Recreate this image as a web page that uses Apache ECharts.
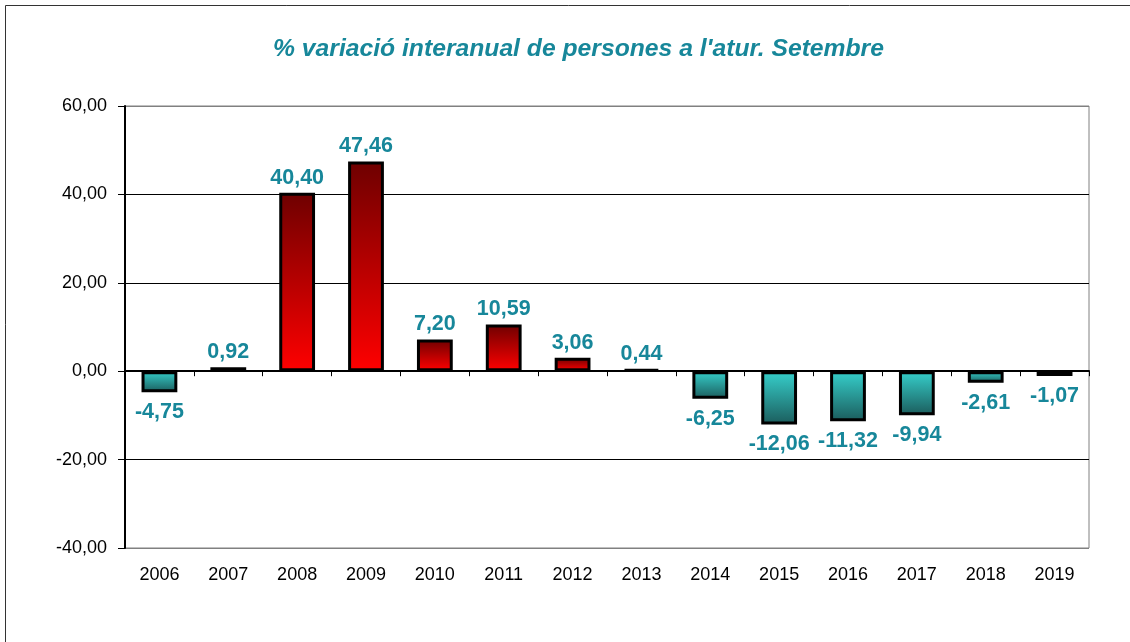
<!DOCTYPE html>
<html>
<head>
<meta charset="utf-8">
<script src="https://cdn.jsdelivr.net/npm/echarts@6/dist/echarts.min.js"></script>
<style>
  html, body { margin: 0; padding: 0; background: #fff; }
  #chart { width: 1130px; height: 642px; }
</style>
</head>
<body>
<div id="chart"></div>
<script>
var years = ['2006','2007','2008','2009','2010','2011','2012','2013','2014','2015','2016','2017','2018','2019'];
var variacio = [-4.75, 0.92, 40.40, 47.46, 7.20, 10.59, 3.06, 0.44, -6.25, -12.06, -11.32, -9.94, -2.61, -1.07];
var titol = "% variació interanual de persones a l'atur. Setembre";

function coma(v) {
    return v.toFixed(2).replace('.', ',');
}

var vermell = new echarts.graphic.LinearGradient(0, 0, 0, 1, [
    { offset: 0, color: '#6e0000' },
    { offset: 1, color: '#ff0000' }
]);
var blau = new echarts.graphic.LinearGradient(0, 0, 0, 1, [
    { offset: 0, color: '#36d0cc' },
    { offset: 1, color: '#1b5c5c' }
]);

var barres = variacio.map(function (v) {
    return {
        value: v,
        itemStyle: { color: v >= 0 ? vermell : blau },
        label: { position: v >= 0 ? 'top' : 'bottom', distance: v >= 0 ? 4 : 9 }
    };
});

function graficAtur() {
    var myChart = echarts.init(document.getElementById('chart'));
    var option = {
        animation: false,
        title: {
            text: titol,
            left: 268,
            top: 32,
            textStyle: {
                fontFamily: 'Liberation Sans, Arial',
                fontSize: 24.7,
                fontWeight: 'bold',
                fontStyle: 'italic',
                color: '#17879a'
            }
        },
        graphic: [{
            type: 'rect',
            shape: { x: 5.5, y: 5.5, width: 1200, height: 700 },
            style: { fill: 'none', stroke: '#333', lineWidth: 1 },
            silent: true
        }],
        grid: {
            left: 125, right: 41, top: 106, bottom: 94,
            show: true,
            borderColor: '#808080',
            borderWidth: 1
        },
        xAxis: [
            {
                type: 'category',
                data: years,
                position: 'bottom',
                axisLine: { show: false, onZero: false },
                axisTick: { show: false },
                axisLabel: {
                    margin: 18,
                    fontFamily: 'Liberation Sans, Arial',
                    fontSize: 18,
                    color: '#000'
                }
            },
            {
                type: 'category',
                data: years,
                position: 'bottom',
                axisLine: { show: true, onZero: true, lineStyle: { color: '#000', width: 2 } },
                axisTick: { show: true, length: 5, inside: false, lineStyle: { color: '#000', width: 1 } },
                axisLabel: { show: false }
            }
        ],
        yAxis: {
            type: 'value',
            min: -40,
            max: 60,
            interval: 20,
            axisLine: { show: true, lineStyle: { color: '#000', width: 2 } },
            axisTick: { show: true, length: 7, lineStyle: { color: '#000', width: 1 } },
            axisLabel: {
                margin: 18,
                fontFamily: 'Liberation Sans, Arial',
                fontSize: 18,
                color: '#000',
                formatter: function (v) { return coma(v); }
            },
            splitLine: {
                show: true,
                lineStyle: { color: ['#808080', '#000', '#000', '#000', '#000', '#808080'], width: 1 }
            }
        },
        series: [{
            type: 'bar',
            xAxisIndex: 0,
            data: barres,
            barWidth: '52%',
            itemStyle: { borderColor: '#000', borderWidth: 3 },
            label: {
                show: true,
                fontFamily: 'Liberation Sans, Arial',
                fontSize: 21.5,
                fontWeight: 'bold',
                color: '#17879a',
                formatter: function (p) { return coma(p.value); }
            }
        }]
    };
    myChart.setOption(option);
}
graficAtur();
</script>
</body>
</html>
